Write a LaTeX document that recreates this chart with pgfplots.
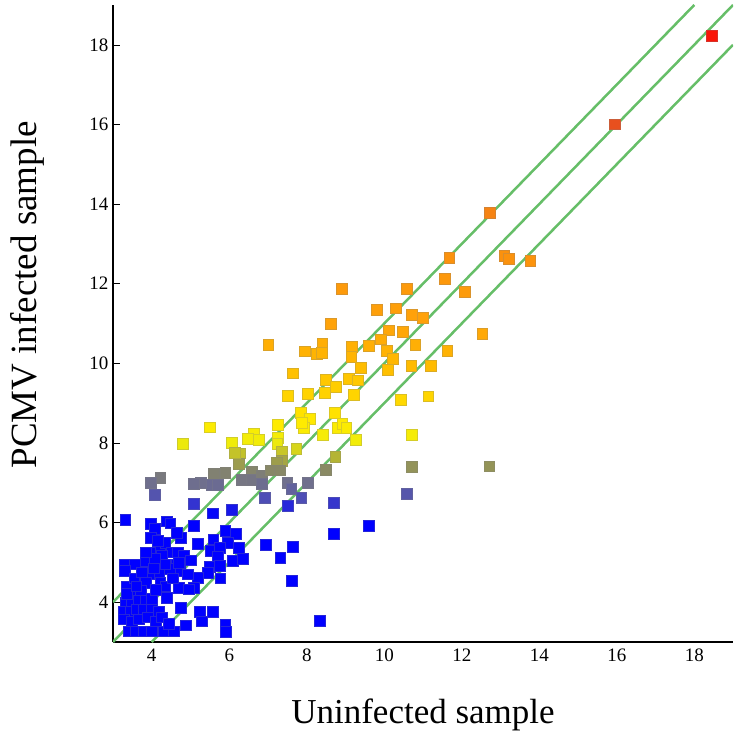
\documentclass[border=0pt]{standalone}
\usepackage{pgfplots}
\pgfplotsset{compat=1.18}
\usepackage{fontspec}
\setmainfont{Liberation Serif}
\definecolor{fcline}{RGB}{102,190,104}
\pgfplotsset{colormap={pcmv}{
  rgb255(3pt)=(0,0,255) rgb255(6.2pt)=(0,0,255) rgb255(6.6pt)=(75,75,185)
  rgb255(7.0pt)=(112,112,140) rgb255(7.3pt)=(135,135,105) rgb255(7.6pt)=(170,170,60)
  rgb255(8.0pt)=(240,236,10) rgb255(8.5pt)=(255,235,0) rgb255(9.2pt)=(255,212,0)
  rgb255(10pt)=(255,185,0) rgb255(11pt)=(255,163,10) rgb255(12.5pt)=(252,148,12)
  rgb255(14pt)=(245,128,20) rgb255(16pt)=(232,80,30) rgb255(19pt)=(255,0,0)}}
\begin{document}
\begin{tikzpicture}
\begin{axis}[
    at={(0,0)}, anchor=south west,
    width=620pt, height=637pt, scale only axis,
    xmin=3, xmax=19, ymin=3, ymax=19,
    axis x line*=bottom, axis y line*=left,
    axis line style={-, line width=2.4pt, black},
    xtick={4,6,...,18}, ytick={4,6,...,18},
    tick align=inside,
    major tick length=7pt,
    x tick style={draw=none},
    y tick style={black, line width=0.6pt},
    /pgf/number format/assume math mode=true,
    ticklabel style={font=\fontsize{19}{21}\selectfont},
    xticklabel style={yshift=-3pt},
    yticklabel style={xshift=-1pt},
    xlabel={Uninfected sample},
    ylabel={PCMV infected sample},
    xlabel style={font=\fontsize{35}{40}\selectfont, at={(axis description cs:0.5,0)}, anchor=base, yshift=-81pt},
    ylabel style={font=\fontsize{37}{42}\selectfont, at={(axis description cs:0,0.545)}, anchor=base, yshift=76pt},
    colormap name=pcmv,
    point meta min=3, point meta max=19,
  ]
  \addplot[scatter, only marks, mark=square*, mark size=5.4pt, point meta=y,
    scatter/use mapped color={draw=mapped color!72!gray, fill=mapped color, line width=0.7pt}]
  coordinates {
    (18.45,18.23) (15.95,16.0) (12.73,13.77) (13.10,12.69) (13.22,12.63) (13.77,12.58)
    (11.68,12.65) (11.56,12.13) (12.08,11.80) (8.90,11.87) (10.59,11.87) (9.80,11.35)
    (10.29,11.38) (10.72,11.21) (11.00,11.15) (8.62,11.00) (10.11,10.83) (10.47,10.80)
    (9.91,10.60) (12.53,10.73) (7.96,10.30) (8.26,10.24) (8.40,10.49) (8.38,10.27)
    (9.16,10.41) (9.60,10.44) (10.07,10.32) (10.80,10.46) (11.63,10.31) (9.15,10.17)
    (10.23,10.11) (9.39,9.88) (10.10,9.83) (10.70,9.93) (11.20,9.93) (8.50,9.58)
    (9.09,9.61) (9.31,9.57) (8.02,9.24) (8.47,9.26) (8.75,9.40) (9.22,9.21)
    (10.43,9.08) (11.14,9.17) (7.85,8.76) (8.72,8.76) (8.08,8.60) (7.93,8.38)
    (8.79,8.38) (8.92,8.47) (9.02,8.38) (8.41,8.20) (9.27,8.08) (10.71,8.21)
    (8.74,7.66) (7.01,10.46) (7.65,9.75) (7.52,9.19) (7.25,8.46) (7.87,8.50)
    (6.63,8.23) (6.49,8.11) (6.77,8.07) (7.25,8.13) (7.24,7.98) (7.36,7.77)
    (7.73,7.86) (7.35,7.56) (7.22,7.49) (6.28,7.74) (6.24,7.48) (8.50,7.33)
    (6.58,7.27) (6.32,7.08) (6.58,7.07) (6.84,7.18) (7.08,7.31) (7.31,7.31)
    (6.84,6.97) (7.50,6.99) (7.60,6.85) (8.02,6.99) (6.92,6.63) (7.86,6.63)
    (7.52,6.41) (8.70,6.49) (5.50,8.39) (6.06,8.00) (6.15,7.75) (5.61,7.22)
    (5.90,7.24) (5.26,6.99) (5.08,6.98) (5.56,6.95) (5.70,6.95) (5.08,6.47)
    (5.58,6.23) (6.06,6.32) (5.08,5.92) (5.90,5.80) (6.16,5.71) (5.18,5.47)
    (5.59,5.58) (5.96,5.50) (6.24,5.37) (5.52,5.29) (5.75,5.36) (5.70,5.14)
    (6.09,5.04) (6.35,5.09) (5.49,4.88) (5.75,4.91) (5.44,4.74) (5.18,4.61)
    (5.77,4.60) (5.08,4.36) (6.94,5.44) (7.32,5.12) (7.65,5.39) (7.61,4.53)
    (5.25,3.76) (5.57,3.76) (5.29,3.52) (5.90,3.44) (5.92,3.25) (8.33,3.53)
    (9.61,5.91) (8.70,5.71) (10.59,6.72) (10.71,7.40) (12.71,7.41) (4.80,7.98)
    (4.22,7.12) (3.98,6.99) (4.07,6.70) (3.32,6.07) (3.97,5.96) (4.08,5.85)
    (3.98,5.62) (4.39,6.03) (4.48,5.98) (4.75,5.61) (4.65,5.75)
    (3.31,4.95) (3.56,4.95) (3.31,4.78) (3.84,5.04) (4.01,5.25) (4.22,5.37)
    (4.35,5.50) (4.52,5.25) (4.67,5.25) (4.26,5.16) (4.82,5.16) (4.65,4.95)
    (4.46,4.83) (4.74,4.78) (4.18,4.70) (3.92,4.70) (3.67,4.53) (3.84,4.49)
    (4.22,4.49) (4.35,4.40) (4.69,4.36) (4.95,4.32) (4.39,4.11) (3.45,4.19)
    (3.58,4.23) (3.71,4.28) (4.93,4.70) (4.69,4.99) (4.09,5.08) (3.84,5.25)
    (3.32,3.98) (3.49,3.94) (3.67,4.03) (3.84,4.03) (4.01,4.08)
    (3.28,3.77) (3.45,3.77) (3.62,3.82) (3.80,3.82) (4.01,3.82) (4.18,3.77)
    (3.28,3.57) (3.49,3.52) (3.67,3.57) (3.90,3.62) (4.10,3.52)
    (3.40,3.27) (3.58,3.27) (3.80,3.27) (4.01,3.27) (4.30,3.27) (4.56,3.27)
    (4.87,3.42) (4.75,3.86) (4.26,3.62) (4.45,3.45)
    (3.35,4.40) (3.55,4.60) (3.75,4.75) (4.05,4.85) (3.35,4.20) (3.60,4.40)
    (4.10,4.30) (4.55,4.60) (4.35,4.95) (5.00,5.05) (4.15,5.55)
  };
  \addplot[fcline, line width=2.5pt] coordinates {(3,4) (18,19)};
  \addplot[fcline, line width=2.5pt] coordinates {(3,3) (19,19)};
  \addplot[fcline, line width=2.5pt] coordinates {(4,3) (19,18)};
\end{axis}
\path (-113pt,-91pt) rectangle (622pt,642pt);
\end{tikzpicture}
\end{document}
